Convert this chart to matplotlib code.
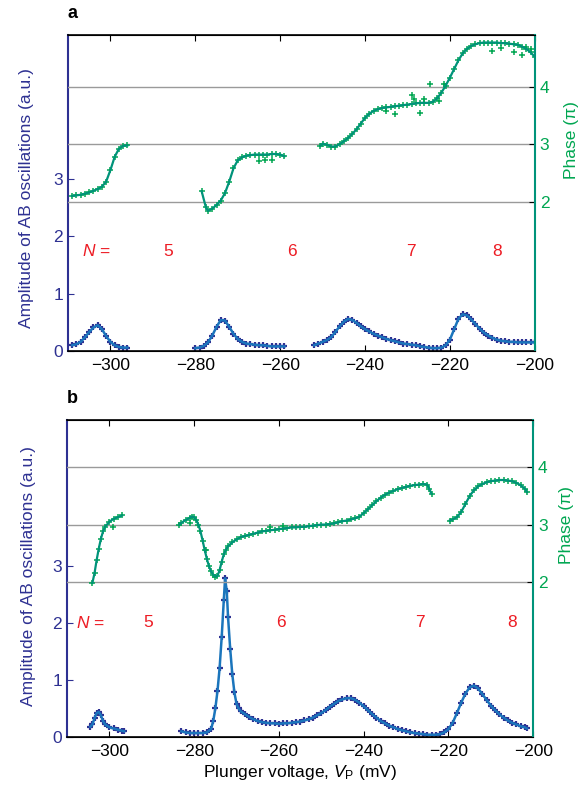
import matplotlib.pyplot as plt
import numpy as np

plt.rcParams['font.family'] = ['Liberation Sans', 'DejaVu Sans']
plt.rcParams['mathtext.fontset'] = 'custom'
plt.rcParams['mathtext.rm'] = 'Liberation Sans'
plt.rcParams['mathtext.it'] = 'Liberation Sans:italic'

NAVY = '#2e3192'
BLUE = '#1b75bc'
GREEN = '#00a651'
TEAL = '#00937a'
RED = '#ed1c24'
FS = 12.5

# ---------- panel a ----------
a_amp1_x = [-309, -308, -307, -306, -305, -304, -303, -302, -301, -300, -299, -298, -297, -296]
a_amp1_y = [0.10, 0.12, 0.16, 0.24, 0.33, 0.41, 0.45, 0.38, 0.26, 0.16, 0.10, 0.07, 0.06, 0.06]
a_amp2_x = [-280, -279, -278, -277, -276, -275, -274, -273, -272, -271, -270, -269, -268, -267,
            -266, -265, -264, -263, -262, -261, -260, -259]
a_amp2_y = [0.05, 0.06, 0.09, 0.15, 0.27, 0.42, 0.54, 0.53, 0.42, 0.30, 0.21, 0.16, 0.13, 0.12,
            0.11, 0.10, 0.10, 0.09, 0.08, 0.08, 0.08, 0.08]
a_amp3_x = list(range(-252, -199))
a_amp3_y = [0.10, 0.13, 0.16, 0.19, 0.24, 0.33, 0.43, 0.51, 0.56, 0.54, 0.49, 0.43, 0.38, 0.34,
            0.30, 0.27, 0.24, 0.21, 0.19, 0.17, 0.15, 0.13, 0.12, 0.11, 0.10, 0.08, 0.07, 0.06,
            0.05, 0.05, 0.06, 0.10, 0.20, 0.38, 0.56, 0.64, 0.62, 0.55, 0.47, 0.39, 0.32, 0.27,
            0.23, 0.20, 0.18, 0.17, 0.16, 0.16, 0.15, 0.15, 0.15, 0.15, 0.15]

a_ph1_x = [-309, -308, -307, -306, -305, -304, -303, -302, -301, -300, -299, -298, -297, -296]
a_ph1_y = [2.10, 2.11, 2.12, 2.14, 2.16, 2.19, 2.22, 2.26, 2.35, 2.55, 2.78, 2.92, 2.97, 2.98]
a_ph2_x = [-278.5, -277.5, -277, -276, -275, -274, -273, -272, -271, -270, -269, -268, -267,
           -266, -265, -264, -263, -262, -261, -260, -259]
a_ph2_y = [2.18, 1.90, 1.84, 1.88, 1.94, 2.02, 2.15, 2.35, 2.58, 2.72, 2.77, 2.80, 2.81,
           2.82, 2.82, 2.82, 2.82, 2.83, 2.83, 2.82, 2.79]
a_ph3_x = [-250.5] + list(range(-250, -199))
a_ph3_y = [2.97, 3.01, 2.99, 2.96, 2.96, 3.00, 3.05, 3.11, 3.18, 3.26, 3.36, 3.46, 3.53, 3.58,
           3.61, 3.63, 3.64, 3.65, 3.66, 3.67, 3.68, 3.69, 3.70, 3.71, 3.72, 3.72, 3.72, 3.74,
           3.80, 3.90, 4.02, 4.16, 4.31, 4.46, 4.58, 4.66, 4.71, 4.74, 4.76, 4.77, 4.77, 4.77,
           4.77, 4.76, 4.76, 4.75, 4.74, 4.73, 4.70, 4.66, 4.60, 4.52]
a_ph_extra_x = [-265, -263.5, -262, -235, -233, -229, -228.5, -227, -226, -224.8, -222.5,
                -221.5, -210, -208, -205, -203, -202, -201]
a_ph_extra_y = [2.71, 2.73, 2.73, 3.58, 3.52, 3.85, 3.78, 3.55, 3.78, 4.05, 3.76,
                4.05, 4.62, 4.68, 4.60, 4.55, 4.70, 4.65]

# ---------- panel b ----------
b_amp1_x = [-304.5, -304, -303.5, -303, -302.5, -302, -301.5, -301, -300, -299, -298, -297, -296.5]
b_amp1_y = [0.18, 0.22, 0.33, 0.42, 0.44, 0.38, 0.28, 0.22, 0.17, 0.15, 0.13, 0.11, 0.10]
b_amp2_x = [-283, -282, -281, -280, -279, -278, -277, -276, -275.5, -275, -274.5, -274, -273.5,
            -273, -272.7, -272.3, -272, -271.5, -271, -270.5, -270, -269.5, -269] + \
           list(range(-268, -201)) + [-201.5]
b_amp2_y = [0.10, 0.08, 0.07, 0.07, 0.07, 0.07, 0.08, 0.14, 0.28, 0.50, 0.80, 1.20, 1.75,
            2.40, 2.78, 2.55, 2.10, 1.55, 1.10, 0.78, 0.58, 0.50, 0.45,
            0.40, 0.35, 0.31, 0.28, 0.26, 0.25, 0.24, 0.24, 0.23, 0.24, 0.24, 0.25, 0.26, 0.27,
            0.29, 0.31, 0.34, 0.38, 0.42, 0.47, 0.53, 0.58, 0.63, 0.66, 0.68, 0.68, 0.65, 0.60,
            0.54, 0.47, 0.40, 0.34, 0.28, 0.24, 0.20, 0.17, 0.14, 0.12, 0.10, 0.08, 0.07, 0.06,
            0.05, 0.04, 0.04, 0.04, 0.05, 0.08, 0.14, 0.25, 0.42, 0.60, 0.76, 0.87, 0.90, 0.85,
            0.75, 0.65, 0.55, 0.47, 0.40, 0.34, 0.29, 0.25, 0.22, 0.19, 0.17, 0.15]

b_ph1_x = [-304, -303.5, -303, -302.5, -302, -301.5, -301, -300, -299, -298, -297]
b_ph1_y = [1.98, 2.15, 2.38, 2.58, 2.75, 2.88, 2.96, 3.05, 3.10, 3.13, 3.16]
b_ph2_x = [-283.5, -283, -282, -281, -280.5, -280, -279.5, -279, -278.5, -278, -277.5, -277,
           -276.5, -276, -275.5, -275, -274.5, -274, -273.5, -273, -272.5, -272] + \
          list(range(-271, -224)) + [-224.5, -224]
b_ph2_y = [3.00, 3.03, 3.08, 3.12, 3.14, 3.13, 3.08, 3.00, 2.88, 2.72, 2.55, 2.40,
           2.27, 2.18, 2.12, 2.09, 2.10, 2.20, 2.35, 2.48, 2.56, 2.62,
           2.69, 2.74, 2.78, 2.80, 2.82, 2.84, 2.86, 2.88, 2.89, 2.90, 2.91, 2.92, 2.93, 2.94,
           2.95, 2.95, 2.96, 2.96, 2.97, 2.98, 2.99, 3.00, 3.00, 3.01, 3.02, 3.04, 3.06, 3.07,
           3.09, 3.11, 3.14, 3.20, 3.27, 3.34, 3.41, 3.47, 3.52, 3.56, 3.59, 3.62, 3.64, 3.66,
           3.68, 3.69, 3.70, 3.71, 3.70, 3.62, 3.54]
b_ph3_x = [-219.7, -219, -218, -217, -216, -215, -214, -213, -212, -211, -210, -209, -208,
           -207, -206, -205, -204, -203, -202, -201.5]
b_ph3_y = [3.07, 3.09, 3.13, 3.22, 3.36, 3.50, 3.60, 3.67, 3.71, 3.74, 3.76, 3.77, 3.78,
           3.78, 3.77, 3.76, 3.73, 3.69, 3.63, 3.57]
b_ph_extra_x = [-299.2, -281, -277.2, -262, -259]
b_ph_extra_y = [2.96, 3.03, 2.56, 2.95, 2.97]

n_labels = ['$N$ =', '5', '6', '7', '8']
a_label_x = [-303.2, -286.4, -257.2, -229.3, -209]
b_label_x = [-304.5, -290.8, -259.5, -226.8, -205]


def panel(fig, rect, amp_segs, ph_segs, ph_extra, amp_top, ph_lim, lab_x, lab_y,
          letter, ylab_pos, phlab_pos, xlabel=None):
    ax = fig.add_axes(rect)
    ax2 = ax.twinx()
    for xs, ys in amp_segs:
        ax.plot(xs, ys, '+', color=NAVY, ms=4.5, mew=1.6, zorder=2)
        ax.plot(xs, ys, '-', color=BLUE, lw=1.8, zorder=3)
    for xs, ys in ph_segs:
        ax2.plot(xs, ys, '+', color=GREEN, ms=5, mew=1.1, zorder=2)
        ax2.plot(xs, ys, '-', color=TEAL, lw=1.6, zorder=3)
    ax2.plot(ph_extra[0], ph_extra[1], '+', color=GREEN, ms=5, mew=1.1)
    for p in [2, 3, 4]:
        ax2.axhline(p, color='#9a9a9a', lw=1, zorder=1)

    ax.set_xlim(-310, -200)
    ax.set_ylim(0, amp_top)
    ax2.set_ylim(*ph_lim)
    ax.set_xticks([-300, -280, -260, -240, -220, -200])
    ax.set_yticks([0, 1, 2, 3])
    ax2.set_yticks([2, 3, 4])
    ax.tick_params(axis='x', direction='in', top=True, length=4, labelsize=FS, pad=5)
    ax.tick_params(axis='y', direction='in', length=4, labelsize=FS, labelcolor=NAVY, color=NAVY)
    ax2.tick_params(axis='y', direction='in', length=4, labelsize=FS, labelcolor=GREEN, color='k')

    for sp in ['top', 'bottom']:
        ax.spines[sp].set_linewidth(1.2)
    ax.spines['left'].set_color(NAVY)
    ax.spines['left'].set_linewidth(1.5)
    ax2.spines['right'].set_color(TEAL)
    ax2.spines['right'].set_linewidth(1.5)
    ax2.spines['left'].set_visible(False)
    ax.spines['right'].set_visible(False)

    ax.set_ylabel('Amplitude of AB oscillations (a.u.)', color=NAVY, fontsize=FS)
    ax.yaxis.set_label_coords(*ylab_pos)
    ax2.set_ylabel('Phase (π)', color=GREEN, fontsize=FS, rotation=90)
    ax2.yaxis.set_label_coords(*phlab_pos)
    if xlabel:
        ax.set_xlabel(xlabel, fontsize=FS, labelpad=3)

    for t, x in zip(n_labels, lab_x):
        ax.text(x, lab_y, t, color=RED, fontsize=FS, ha='center', va='center')
    ax.text(0.0, 1.04, letter, transform=ax.transAxes, fontsize=13, fontweight='bold',
            ha='left', va='bottom')
    return ax


fig = plt.figure(figsize=(5.85, 7.86), dpi=100)

panel(fig, [0.1162, 0.5534, 0.798, 0.402],
      [(a_amp1_x, a_amp1_y), (a_amp2_x, a_amp2_y), (a_amp3_x, a_amp3_y)],
      [(a_ph1_x, a_ph1_y), (a_ph2_x, a_ph2_y), (a_ph3_x, a_ph3_y)],
      (a_ph_extra_x, a_ph_extra_y), 5.5, (-0.6, 4.9), a_label_x, 1.74, 'a',
      (-0.073, 0.484), (1.062, 0.668))

panel(fig, [0.1145, 0.0623, 0.797, 0.4033],
      [(b_amp1_x, b_amp1_y), (b_amp2_x, b_amp2_y)],
      [(b_ph1_x, b_ph1_y), (b_ph2_x, b_ph2_y), (b_ph3_x, b_ph3_y)],
      (b_ph_extra_x, b_ph_extra_y), 5.55, (-0.72, 4.83), b_label_x, 2.0, 'b',
      (-0.067, 0.508), (1.056, 0.669),
      xlabel='Plunger voltage, $V_\\mathrm{P}$ (mV)')

fig.savefig('out.png', dpi=100)
